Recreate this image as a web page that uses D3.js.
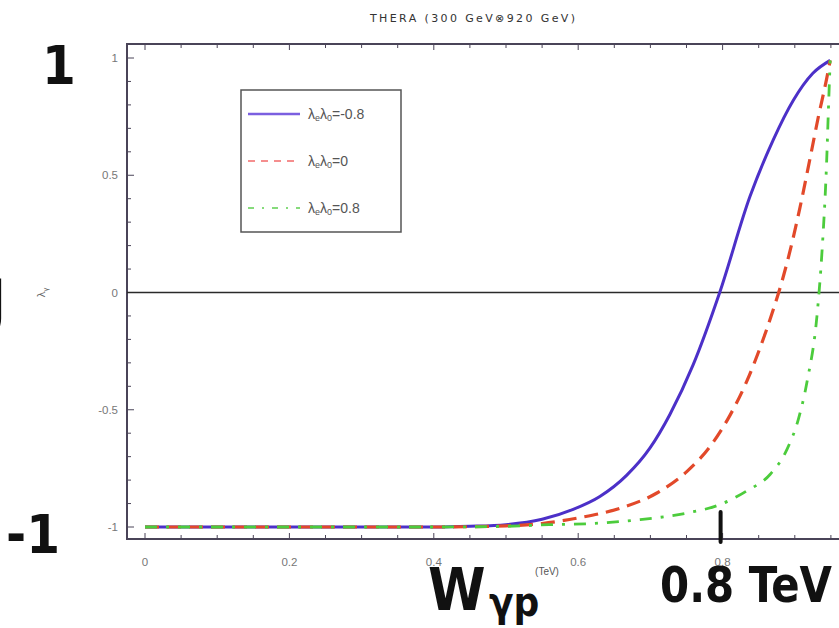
<!DOCTYPE html>
<html>
<head>
<meta charset="utf-8">
<script src="https://cdn.jsdelivr.net/npm/d3@7"></script>
<style>
  html, body { margin: 0; padding: 0; background: #fff; }
  svg { display: block; overflow: hidden; }
  .hand { font-family: 'Liberation Sans Narrow', 'DejaVu Sans Condensed', 'Liberation Sans', sans-serif; font-weight: bold; fill: #111; }
</style>
</head>
<body>
<div id="chart"></div>
<script>
// photon helicity curves vs W_gamma_p (TeV)
const blueX = [0, 0.1, 0.2, 0.3, 0.4, 0.45, 0.5, 0.55, 0.593, 0.63, 0.667, 0.699, 0.727, 0.759, 0.796, 0.838, 0.87, 0.898, 0.925, 0.949];
const blueY = [-1, -1, -1, -1, -1, -0.997, -0.99, -0.967, -0.925, -0.87, -0.78, -0.665, -0.52, -0.31, 0.0, 0.41, 0.65, 0.82, 0.935, 0.99];

const redX = [0, 0.1, 0.2, 0.3, 0.4, 0.5, 0.55, 0.602, 0.658, 0.709, 0.75, 0.783, 0.81, 0.834, 0.852, 0.870, 0.882, 0.896, 0.907, 0.921, 0.932, 0.944, 0.949];
const redY = [-1, -1, -1, -1, -1, -0.995, -0.985, -0.96, -0.92, -0.855, -0.765, -0.655, -0.525, -0.375, -0.235, -0.075, 0.045, 0.21, 0.36, 0.57, 0.74, 0.91, 0.99];

const greenX = [0, 0.1, 0.2, 0.3, 0.4, 0.5, 0.56, 0.621, 0.681, 0.751, 0.796, 0.834, 0.866, 0.889, 0.905, 0.917, 0.931, 0.938, 0.944, 0.947, 0.949];
const greenY = [-1, -1, -1, -1, -1, -0.997, -0.99, -0.985, -0.97, -0.94, -0.905, -0.845, -0.775, -0.67, -0.54, -0.38, -0.09, 0.19, 0.55, 0.82, 0.99];

const xTicks = [0, 0.2, 0.4, 0.6, 0.8];
const yTicks = [-1, -0.5, 0, 0.5, 1];
const legendValues = ['-0.8', '0', '0.8'];

const series = [
    { xs: blueX,  ys: blueY,  color: '#4c30c8', legendColor: '#7b5fe0', dash: null,        width: 3 },
    { xs: redX,   ys: redY,   color: '#e2492a', legendColor: '#f26a6a', dash: '14,8',      width: 3.2 },
    { xs: greenX, ys: greenY, color: '#4ccc3c', legendColor: '#5fd050', dash: '12,9,3,9',  width: 2.8 }
];

const W = 839, H = 628;
const svg = d3.select('#chart').append('svg')
    .attr('width', W)
    .attr('height', H);

svg.append('rect').attr('width', W).attr('height', H).attr('fill', '#fff');

const plotLeft = 127, plotTop = 44, plotBottom = 539, plotRight = 880;

const x = d3.scaleLinear().domain([0, 1]).range([145, 867]);
const y = d3.scaleLinear().domain([-1, 1]).range([527, 58]);

const frameColor = '#4a4458';

// title
svg.append('text')
    .attr('x', 370).attr('y', 22)
    .attr('font-family', 'DejaVu Sans, sans-serif')
    .attr('font-size', 11)
    .attr('fill', '#333')
    .attr('textLength', 205)
    .attr('lengthAdjust', 'spacing')
    .text('THERA (300 GeV\u2297920 GeV)');

// minor/major ticks
const minorX = d3.range(0, 1.001, 0.05);
const minorY = d3.range(-1, 1.001, 0.1);

const g = svg.append('g');

g.selectAll('.tb').data(minorX).enter().append('line')
    .attr('x1', d => x(d)).attr('x2', d => x(d))
    .attr('y1', plotBottom).attr('y2', d => plotBottom - (Math.abs(d * 10 % 2) < 0.01 ? 6 : 4))
    .attr('stroke', frameColor).attr('stroke-width', 1);

g.selectAll('.tt').data(minorX).enter().append('line')
    .attr('x1', d => x(d)).attr('x2', d => x(d))
    .attr('y1', plotTop).attr('y2', d => plotTop + (Math.abs(d * 10 % 2) < 0.01 ? 6 : 4))
    .attr('stroke', frameColor).attr('stroke-width', 1);

g.selectAll('.tl').data(minorY).enter().append('line')
    .attr('x1', plotLeft).attr('x2', d => plotLeft + (Math.abs((d * 10) % 5) < 0.01 ? 7 : 4))
    .attr('y1', d => y(d)).attr('y2', d => y(d))
    .attr('stroke', frameColor).attr('stroke-width', 1);

// frame
svg.append('rect')
    .attr('x', plotLeft).attr('y', plotTop)
    .attr('width', plotRight - plotLeft).attr('height', plotBottom - plotTop)
    .attr('fill', 'none')
    .attr('stroke', frameColor)
    .attr('stroke-width', 2);

// zero line
svg.append('line')
    .attr('x1', plotLeft).attr('x2', plotRight)
    .attr('y1', y(0)).attr('y2', y(0))
    .attr('stroke', '#2a2a2a').attr('stroke-width', 1.5);

// tick labels
svg.selectAll('.xl').data(xTicks).enter().append('text')
    .attr('x', d => x(d)).attr('y', 566)
    .attr('text-anchor', 'middle')
    .attr('font-family', 'Liberation Sans, Arial, sans-serif')
    .attr('font-size', 11.5)
    .attr('fill', '#777')
    .text(d => d === 0 ? '0' : d3.format('.1f')(d));

svg.selectAll('.yl').data(yTicks).enter().append('text')
    .attr('x', 118).attr('y', d => y(d) + 4)
    .attr('text-anchor', 'end')
    .attr('font-family', 'Liberation Sans, Arial, sans-serif')
    .attr('font-size', 11.5)
    .attr('fill', '#777')
    .text(d => String(d));

// y label
const yl = svg.append('text')
    .attr('transform', 'translate(45,' + y(0) + ') rotate(-90)')
    .attr('text-anchor', 'middle')
    .attr('font-family', 'DejaVu Sans, sans-serif')
    .attr('font-size', 10)
    .attr('fill', '#666');
yl.append('tspan').text('\u03bb');
yl.append('tspan').attr('font-size', 7).attr('dy', 3).text('\u03b3');

// x unit
svg.append('text')
    .attr('x', 547).attr('y', 575)
    .attr('text-anchor', 'middle')
    .attr('font-family', 'Liberation Sans, Arial, sans-serif')
    .attr('font-size', 10)
    .attr('fill', '#555')
    .text('(TeV)');

// curves
svg.append('clipPath').attr('id', 'plotclip')
    .append('rect').attr('x', plotLeft).attr('y', plotTop)
    .attr('width', plotRight - plotLeft).attr('height', plotBottom - plotTop);

const line = d3.line()
    .x(d => x(d[0]))
    .y(d => y(d[1]))
    .curve(d3.curveMonotoneX);

series.forEach(function(s) {
    const pts = s.xs.map((v, i) => [v, s.ys[i]]);
    svg.append('path')
        .datum(pts)
        .attr('clip-path', 'url(#plotclip)')
        .attr('fill', 'none')
        .attr('stroke', s.color)
        .attr('stroke-width', s.width)
        .attr('stroke-dasharray', s.dash)
        .attr('d', line);
});

// legend
const lg = svg.append('g');
lg.append('rect')
    .attr('x', 241).attr('y', 90)
    .attr('width', 160).attr('height', 142)
    .attr('fill', '#fff')
    .attr('stroke', '#555')
    .attr('stroke-width', 1.5);

series.forEach(function(s, i) {
    const ly = 114 + i * 47;
    lg.append('line')
        .attr('x1', 248).attr('x2', 300)
        .attr('y1', ly).attr('y2', ly)
        .attr('stroke', s.legendColor)
        .attr('stroke-width', i === 0 ? 2.5 : 1.5)
        .attr('stroke-dasharray', i === 0 ? null : (i === 1 ? '7,6' : '6,8,2,8'));
    const t = lg.append('text')
        .attr('x', 308).attr('y', ly + 5)
        .attr('font-family', 'Liberation Sans, Arial, sans-serif')
        .attr('font-size', 14)
        .attr('fill', '#555');
    t.append('tspan').text('\u03bb');
    t.append('tspan').attr('font-size', 9).attr('dy', 2).text('e');
    t.append('tspan').attr('dy', -2).text('\u03bb');
    t.append('tspan').attr('font-size', 9).attr('dy', 2).text('0');
    t.append('tspan').attr('dy', -2).text('=' + legendValues[i]);
});

// handwritten annotations
svg.append('text').attr('class', 'hand').attr('x', 42).attr('y', 84).attr('font-size', 54).text('1');
svg.append('text').attr('class', 'hand').attr('x', 6).attr('y', 553).attr('font-size', 54).text('-1');
svg.append('text').attr('class', 'hand').attr('x', -14).attr('y', 322).attr('font-size', 60).text('J');
svg.append('text').attr('class', 'hand').attr('x', 428).attr('y', 610).attr('font-size', 58).text('W');
svg.append('text').attr('class', 'hand').attr('x', 489).attr('y', 616).attr('font-size', 40).text('\u03b3p');
svg.append('text').attr('class', 'hand').attr('x', 660).attr('y', 602)
    .attr('font-size', 50)
    .attr('textLength', 172)
    .attr('lengthAdjust', 'spacingAndGlyphs')
    .text('0.8 TeV');
svg.append('line')
    .attr('x1', x(0.8) - 2).attr('x2', x(0.8) - 2)
    .attr('y1', 512).attr('y2', 542)
    .attr('stroke', '#111').attr('stroke-width', 4).attr('stroke-linecap', 'round');
</script>
</body>
</html>
